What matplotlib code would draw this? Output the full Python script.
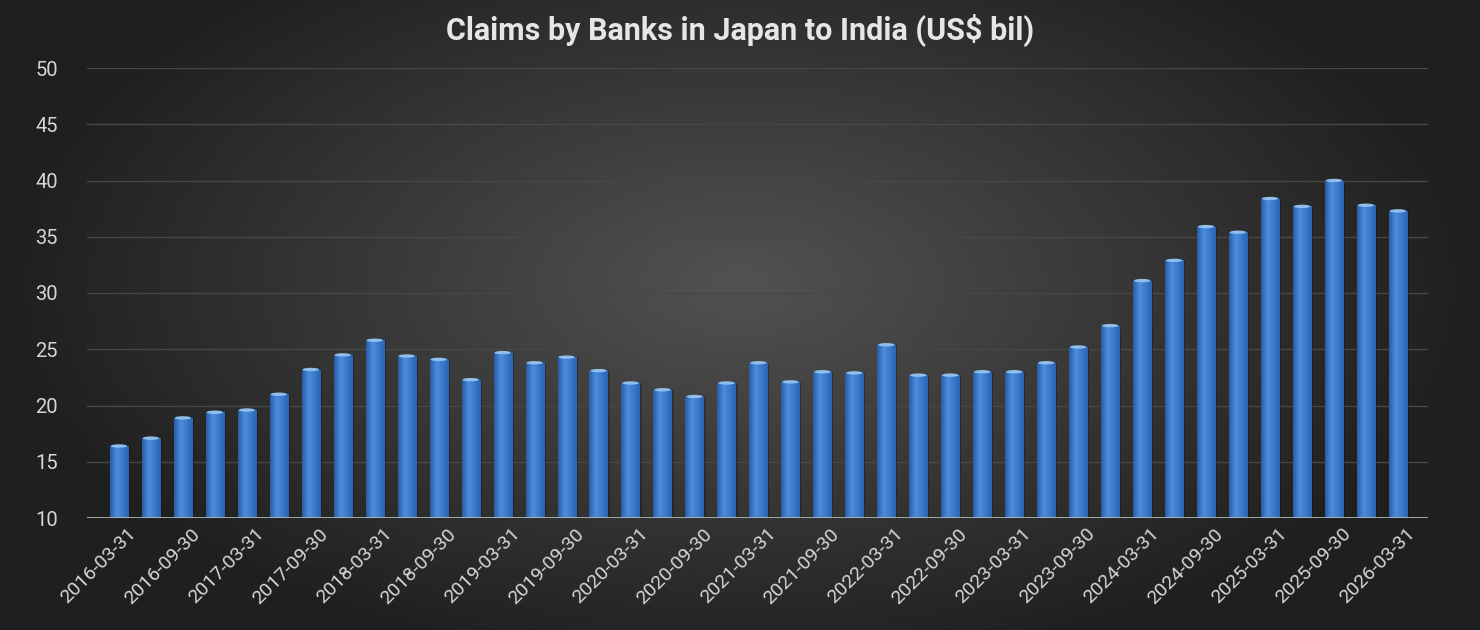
import numpy as np
import matplotlib
matplotlib.use('Agg')
import matplotlib.pyplot as plt
from matplotlib.patches import Ellipse
import matplotlib.transforms as mtransforms

# quarterly dates, 2016-03-31 .. 2026-03-31
dates = ['2016-03-31', '2016-06-30', '2016-09-30', '2016-12-31',
         '2017-03-31', '2017-06-30', '2017-09-30', '2017-12-31',
         '2018-03-31', '2018-06-30', '2018-09-30', '2018-12-31',
         '2019-03-31', '2019-06-30', '2019-09-30', '2019-12-31',
         '2020-03-31', '2020-06-30', '2020-09-30', '2020-12-31',
         '2021-03-31', '2021-06-30', '2021-09-30', '2021-12-31',
         '2022-03-31', '2022-06-30', '2022-09-30', '2022-12-31',
         '2023-03-31', '2023-06-30', '2023-09-30', '2023-12-31',
         '2024-03-31', '2024-06-30', '2024-09-30', '2024-12-31',
         '2025-03-31', '2025-06-30', '2025-09-30', '2025-12-31',
         '2026-03-31']
claims = [16.4, 17.1, 18.9, 19.4, 19.6, 21.0, 23.2, 24.5,
          25.8, 24.4, 24.1, 22.3, 24.7, 23.8, 24.3, 23.1,
          22.0, 21.4, 20.8, 22.0, 23.8, 22.1, 23.0, 22.9,
          25.4, 22.7, 22.7, 23.0, 23.0, 23.8, 25.2, 27.1,
          31.1, 32.9, 35.9, 35.4, 38.4, 37.7, 40.0, 37.8,
          37.3]
y_ticks = [10, 15, 20, 25, 30, 35, 40, 45, 50]

TITLE = 'Claims by Banks in Japan to India (US$ bil)'
FONT = ['Roboto', 'DejaVu Sans']

plt.rcParams['font.family'] = FONT

fig = plt.figure(figsize=(14.8, 6.3), dpi=100)

# radial background
bg = fig.add_axes([0, 0, 1, 1], zorder=-10)
bg.set_axis_off()
gx, gy = np.meshgrid(np.linspace(-1, 1, 740), np.linspace(-1, 1, 315))
r = np.sqrt((gx / 1.0) ** 2 + ((gy + 0.1) / 1.25) ** 2)
r = np.clip(r, 0, 1)
c_in = np.array([0x52, 0x52, 0x52]) / 255
c_out = np.array([0x1f, 0x1f, 0x1f]) / 255
img = c_in[None, None, :] * (1 - r[..., None]) + c_out[None, None, :] * r[..., None]
bg.imshow(img, aspect='auto', extent=[0, 1, 0, 1], origin='upper')

ax = fig.add_axes([87 / 1480, 112 / 630, (1428 - 87) / 1480, 450 / 630])
ax.patch.set_alpha(0)

x = np.arange(len(dates))
bw = 0.57
bars = ax.bar(x, [v - 10 for v in claims], width=bw, bottom=10,
              color='#3d7fd0', zorder=3, linewidth=0)

# cylinder shading
grad = np.linspace(0, 1, 64)
left = np.array([0x2a, 0x5c, 0xa4]) / 255
mid = np.array([0x4a, 0x8e, 0xe0]) / 255
right = np.array([0x2c, 0x63, 0xb2]) / 255
shade = np.zeros((1, 64, 3))
for k, t in enumerate(grad):
    if t < 0.35:
        f = t / 0.35
        shade[0, k] = left * (1 - f) + mid * f
    else:
        f = (t - 0.35) / 0.65
        shade[0, k] = mid * (1 - f) + right * f

for b, v in zip(bars, claims):
    x0 = b.get_x()
    w = b.get_width()
    # soft shadow at right side
    ax.bar(x0 + w / 2 + 0.06, v - 10, width=w, bottom=10, color='black',
           alpha=0.25, zorder=2, linewidth=0)
    im = ax.imshow(shade, extent=[x0, x0 + w, 10, v], aspect='auto',
                   zorder=3.5, interpolation='bicubic')
    im.set_clip_path(b)
    cap = Ellipse((x0 + w / 2, v), w * 0.9, 0.3, facecolor='#8fbfee',
                  edgecolor='none', zorder=4)
    ax.add_patch(cap)

ax.set_xlim(-1, len(dates) - 0.06)
ax.set_ylim(10, 50)
ax.set_yticks(y_ticks)
ax.set_yticklabels([str(t) for t in y_ticks])
ax.set_xticks(x[::2])
ax.set_xticklabels(dates[::2], rotation=45, ha='right', va='top',
                   rotation_mode='anchor')

for t in y_ticks[1:]:
    ax.axhline(t, color='#474747', linewidth=1, zorder=1)
ax.axhline(10, color='#bdbdbd', linewidth=1.2, zorder=5)

for s in ax.spines.values():
    s.set_visible(False)
ax.tick_params(axis='both', length=0, colors='#d6d6d6')
ax.tick_params(axis='y', pad=21, labelsize=14.5)
ax.tick_params(axis='x', pad=5, labelsize=14)

offset = mtransforms.ScaledTranslation(8 / 100, 0, fig.dpi_scale_trans)
for lbl in ax.get_xticklabels():
    lbl.set_transform(lbl.get_transform() + offset)

fig.text(0.5, 0.952, TITLE, ha='center', va='center', fontsize=22,
         fontweight='bold', color='#e6e6e6')

fig.savefig('out.png', dpi=100)
